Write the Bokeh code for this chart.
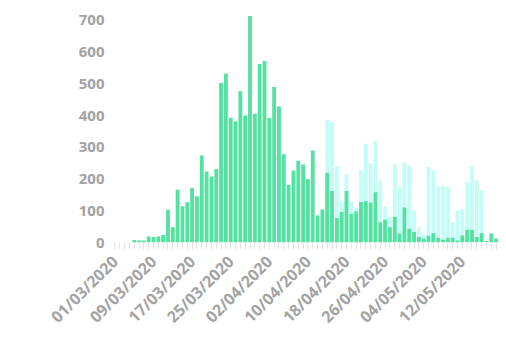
import math
import pandas as pd
from bokeh.plotting import figure
from bokeh.models import Range1d, FixedTicker
from bokeh.embed import file_html
from bokeh.resources import INLINE

dates = list(pd.date_range("2020-03-01", periods=80).strftime("%d/%m/%Y"))

green = [0, 0, 0, 0, 8, 6, 6, 19, 17, 19,
         24, 103, 48, 166, 114, 127, 172, 146, 274, 224,
         208, 232, 503, 532, 393, 382, 477, 400, 714, 406,
         563, 572, 393, 490, 429, 278, 182, 227, 258, 246,
         199, 290, 85, 104, 219, 162, 77, 96, 162, 90,
         98, 128, 130, 125, 158, 64, 72, 48, 80, 28,
         110, 43, 33, 17, 12, 21, 29, 15, 9, 15,
         15, 6, 22, 40, 40, 17, 29, 5, 28, 13]

cyan = [0] * 44 + [387, 380, 241, 130, 216, 130,
                   110, 227, 311, 250, 321, 196, 114, 80, 247, 175,
                   253, 243, 101, 48, 27, 238, 227, 177, 177, 175,
                   64, 101, 106, 190, 241, 196, 164, 0, 0, 0]

y_ticks = [0, 100, 200, 300, 400, 500, 600, 700]
label_every = 8

idx = list(range(len(dates)))

p = figure(width=506, height=349, output_backend="svg", toolbar_location=None,
           x_range=Range1d(-0.5, len(dates) - 0.5), y_range=Range1d(0, 747),
           min_border_left=112, min_border_right=8, min_border_top=5,
           min_border_bottom=107)
p.outline_line_color = None
p.xgrid.visible = False
p.ygrid.visible = False
p.background_fill_color = "white"
p.border_fill_color = "white"

p.vbar(x=idx, top=cyan, width=0.8, fill_color="#c4fcf6", line_color=None)
p.vbar(x=idx, top=green, width=0.8, fill_color="#55e1a2", line_color=None)

txt_color = "#a3a3a3"

ya = p.yaxis[0]
ya.ticker = FixedTicker(ticks=y_ticks)
ya.axis_line_color = None
ya.major_tick_line_color = None
ya.major_tick_out = 0
ya.major_tick_in = 0
ya.minor_tick_line_color = None
ya.major_label_text_font = "Open Sans"
ya.major_label_text_font_style = "bold"
ya.major_label_text_font_size = "15px"
ya.major_label_text_color = txt_color
ya.major_label_standoff = 8

xa = p.xaxis[0]
major = idx[::label_every]
xa.ticker = FixedTicker(ticks=major, minor_ticks=idx)
xa.major_label_overrides = {i: dates[i] for i in major}
xa.axis_line_color = None
xa.major_tick_line_color = None
xa.major_tick_out = 7
xa.major_tick_in = 0
xa.minor_tick_line_color = "#e3e3e3"
xa.minor_tick_out = 7
xa.minor_tick_in = 0
xa.major_label_orientation = math.pi / 4
xa.major_label_text_font = "Open Sans"
xa.major_label_text_font_style = "bold"
xa.major_label_text_font_size = "16px"
xa.major_label_text_color = txt_color
xa.major_label_standoff = 9

open("out.html", "w").write(file_html(p, INLINE))
